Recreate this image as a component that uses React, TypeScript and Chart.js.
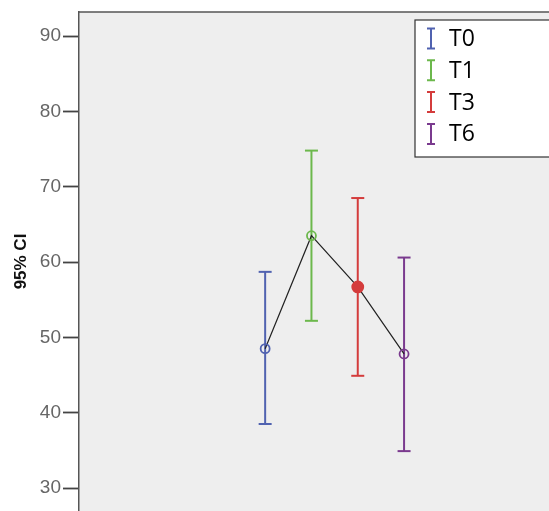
import React, { useEffect, useRef } from "react";
import { Chart, registerables } from "chart.js";

Chart.register(...registerables);

const groups = ["T0", "T1", "T3", "T6"];
const means = [48.5, 63.5, 56.7, 47.8];
const lower = [38.5, 52.2, 44.9, 34.9];
const upper = [58.7, 74.8, 68.5, 60.6];
const colors = ["#5062b0", "#6cb84c", "#d43c3c", "#7a3a8e"];
const filled = [false, false, true, false];
const yTicks = [30, 40, 50, 60, 70, 80, 90];

const plotBg = {
  id: "plotBg",
  beforeDraw(chart: any) {
    const { ctx, chartArea } = chart;
    ctx.save();
    ctx.fillStyle = "#eeeeee";
    ctx.fillRect(chartArea.left, chartArea.top, chartArea.right - chartArea.left, chartArea.bottom - chartArea.top);
    ctx.strokeStyle = "#555555";
    ctx.lineWidth = 1.5;
    ctx.beginPath();
    ctx.moveTo(chartArea.left, chartArea.top);
    ctx.lineTo(chartArea.right, chartArea.top);
    ctx.stroke();
    ctx.restore();
  },
};

const boxLegend = {
  id: "boxLegend",
  afterDraw(chart: any) {
    const { ctx } = chart;
    ctx.save();
    const bx = 415, by = 20, bw = 140, bh = 137;
    ctx.fillStyle = "#ffffff";
    ctx.fillRect(bx, by, bw, bh);
    ctx.strokeStyle = "#333333";
    ctx.lineWidth = 1.2;
    ctx.strokeRect(bx, by, bw, bh);
    groups.forEach((g, i) => {
      const cy = 38.5 + i * 31.8;
      const ix = 431;
      ctx.strokeStyle = colors[i];
      ctx.lineWidth = 2;
      ctx.beginPath();
      ctx.moveTo(ix, cy - 10);
      ctx.lineTo(ix, cy + 10);
      ctx.moveTo(ix - 4, cy - 10);
      ctx.lineTo(ix + 4, cy - 10);
      ctx.moveTo(ix - 4, cy + 10);
      ctx.lineTo(ix + 4, cy + 10);
      ctx.stroke();
      ctx.fillStyle = "#000000";
      ctx.font = "23px 'Open Sans', Lato, 'Liberation Sans', sans-serif";
      ctx.textBaseline = "middle";
      ctx.textAlign = "left";
      ctx.fillText(g, 449, cy + 1);
    });
    ctx.restore();
  },
};

export default function App() {
  const ref = useRef<HTMLCanvasElement | null>(null);
  useEffect(() => {
    if (!ref.current) return;
    const errorSets = groups.map((g, i) => ({
      label: g,
      data: [
        { x: i, y: lower[i] },
        { x: i, y: upper[i] },
      ],
      showLine: true,
      borderColor: colors[i],
      borderWidth: 2,
      pointStyle: "line" as const,
      pointRadius: 6.5,
      pointBorderWidth: 2,
      pointBorderColor: colors[i],
      order: 2,
    }));
    const meanSet = {
      label: "mean",
      data: means.map((m, i) => ({ x: i, y: m })),
      showLine: true,
      borderColor: "#222222",
      borderWidth: 1.2,
      pointStyle: "circle" as const,
      pointRadius: means.map((_, i) => (filled[i] ? 5.5 : 4.5)),
      pointBorderWidth: 1.8,
      pointBorderColor: colors,
      pointBackgroundColor: colors.map((c, i) => (filled[i] ? c : "rgba(0,0,0,0)")),
      order: 1,
    };
    const chart = new Chart(ref.current, {
      type: "scatter",
      data: { datasets: [...errorSets, meanSet] as any },
      options: {
        animation: false,
        responsive: false,
        maintainAspectRatio: false,
        layout: { autoPadding: false, padding: { top: 12, left: 0, right: 0, bottom: 0 } },
        plugins: { legend: { display: false }, tooltip: { enabled: false } },
        scales: {
          x: {
            type: "linear",
            display: false,
            min: -4.02,
            max: 6.13,
          },
          y: {
            type: "linear",
            min: 26.95,
            max: 93.2,
            afterBuildTicks(scale: any) {
              scale.ticks = yTicks.map((v) => ({ value: v }));
            },
            afterFit(scale: any) {
              scale.width = 79;
              scale.paddingTop = 0;
              scale.paddingBottom = 0;
            },
            border: { display: true, color: "#555555", width: 1.5 },
            grid: {
              drawOnChartArea: false,
              drawTicks: true,
              tickLength: 16,
              tickColor: "#444444",
              tickWidth: 1.8,
            },
            ticks: {
              padding: 2,
              color: "#666666",
              font: { family: "'Liberation Sans', Arial, sans-serif", size: 19 },
            },
            title: {
              display: true,
              text: "95% CI",
              color: "#111111",
              font: { family: "'Liberation Sans', Arial, sans-serif", size: 17, weight: "bold" },
              padding: { top: 11.5, bottom: 0 },
            },
          },
        },
      },
      plugins: [plotBg, boxLegend],
    });
    return () => chart.destroy();
  }, []);
  return (
    <div style={{ position: "fixed", left: 0, top: 0, width: 549, height: 511, background: "#ffffff" }}>
      <canvas ref={ref} width={549} height={511} style={{ width: 549, height: 511, display: "block" }} />
    </div>
  );
}
